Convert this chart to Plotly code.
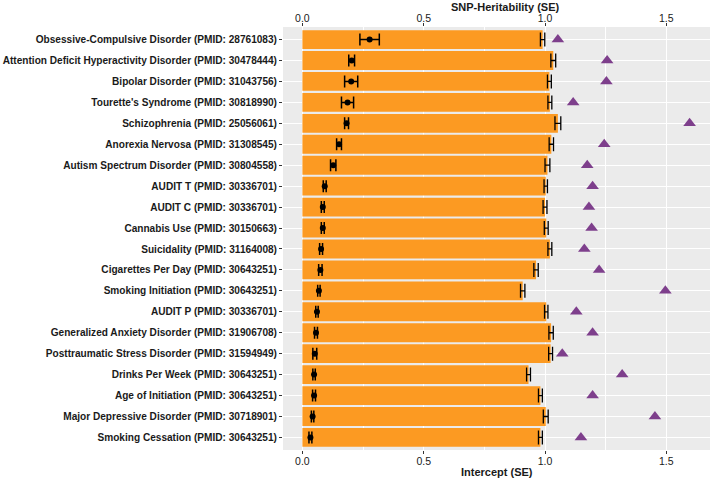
import plotly.graph_objects as go

# traits, top to bottom
traits = [
    "Obsessive-Compulsive Disorder (PMID: 28761083)",
    "Attention Deficit Hyperactivity Disorder (PMID: 30478444)",
    "Bipolar Disorder (PMID: 31043756)",
    "Tourette's Syndrome (PMID: 30818990)",
    "Schizophrenia (PMID: 25056061)",
    "Anorexia Nervosa (PMID: 31308545)",
    "Autism Spectrum Disorder (PMID: 30804558)",
    "AUDIT T (PMID: 30336701)",
    "AUDIT C (PMID: 30336701)",
    "Cannabis Use (PMID: 30150663)",
    "Suicidality (PMID: 31164008)",
    "Cigarettes Per Day (PMID: 30643251)",
    "Smoking Initiation (PMID: 30643251)",
    "AUDIT P (PMID: 30336701)",
    "Generalized Anxiety Disorder (PMID: 31906708)",
    "Posttraumatic Stress Disorder (PMID: 31594949)",
    "Drinks Per Week (PMID: 30643251)",
    "Age of Initiation (PMID: 30643251)",
    "Major Depressive Disorder (PMID: 30718901)",
    "Smoking Cessation (PMID: 30643251)",
]

intercept = [0.99, 1.034, 1.018, 1.02, 1.053, 1.026, 1.01, 1.003, 1.0, 1.005,
             1.02, 0.963, 0.908, 1.005, 1.025, 1.023, 0.932, 0.981, 1.003, 0.981]
intercept_se = [0.009, 0.01, 0.008, 0.008, 0.012, 0.009, 0.01, 0.007, 0.008, 0.008,
                0.008, 0.009, 0.009, 0.007, 0.009, 0.008, 0.008, 0.008, 0.01, 0.008]

h2 = [0.277, 0.203, 0.201, 0.186, 0.182, 0.151, 0.127, 0.092, 0.084, 0.084,
      0.077, 0.074, 0.068, 0.06, 0.056, 0.051, 0.048, 0.048, 0.042, 0.033]
h2_se = [0.04, 0.012, 0.027, 0.025, 0.008, 0.01, 0.011, 0.006, 0.006, 0.006,
         0.006, 0.007, 0.005, 0.005, 0.006, 0.008, 0.005, 0.006, 0.005, 0.006]

# mean chi-square / lambda (triangles)
mean_chi2 = [1.053, 1.256, 1.253, 1.116, 1.596, 1.244, 1.174, 1.196, 1.181, 1.192,
             1.162, 1.223, 1.496, 1.129, 1.196, 1.071, 1.318, 1.196, 1.453, 1.148]

x_ticks = [0, 0.5, 1.0, 1.5]
x_tick_text = ["0.0", "0.5", "1.0", "1.5"]
x_range = [-0.08, 1.68]

fig = go.Figure()

fig.add_trace(go.Bar(
    y=traits,
    x=intercept,
    orientation='h',
    width=0.9,
    marker=dict(color='#FC9A22', line=dict(width=0)),
    error_x=dict(type='data', array=intercept_se, color='black',
                 thickness=1.3, width=7),
    hoverinfo='skip',
    showlegend=False,
))

fig.add_trace(go.Scatter(
    y=traits,
    x=h2,
    xaxis='x2',
    mode='markers',
    marker=dict(color='black', size=6),
    error_x=dict(type='data', array=h2_se, color='black',
                 thickness=1.5, width=6),
    hoverinfo='skip',
    showlegend=False,
))

fig.add_trace(go.Scatter(
    y=traits,
    x=mean_chi2,
    mode='markers',
    marker=dict(color='#7E3F8C', size=11, symbol='triangle-up'),
    hoverinfo='skip',
    showlegend=False,
))

font_axis = dict(family='Liberation Sans', size=10.5, color='#1a1a1a')

fig.update_layout(
    width=713,
    height=480,
    margin=dict(l=283, r=3, t=27, b=30, autoexpand=False),
    paper_bgcolor='white',
    plot_bgcolor='#EBEBEB',
    bargap=0.1,
    font=dict(family='Liberation Sans', color='black'),
    xaxis=dict(
        range=x_range,
        tickvals=x_ticks,
        ticktext=x_tick_text,
        tickfont=font_axis,
        ticks='outside', ticklen=3, tickcolor='#333333',
        ticklabelstandoff=-2,
        showgrid=True, gridcolor='white', gridwidth=1.2,
        minor=dict(tickvals=[0.25, 0.75, 1.25], showgrid=True,
                   gridcolor='white', gridwidth=0.6),
        zeroline=False,
        automargin=False,
    ),
    xaxis2=dict(
        range=x_range,
        overlaying='x',
        side='top',
        tickvals=x_ticks,
        ticktext=x_tick_text,
        tickfont=font_axis,
        ticks='outside', ticklen=3, tickcolor='#333333',
        ticklabelstandoff=-3,
        showgrid=False,
        zeroline=False,
        automargin=False,
    ),
    yaxis=dict(
        type='category',
        categoryorder='array',
        categoryarray=traits,
        range=[19.6, -0.6],
        tickfont=dict(family='Liberation Sans', size=10.1, color='#1a1a1a'),
        ticks='outside', ticklen=3, tickcolor='#333333',
        showgrid=True, gridcolor='white', gridwidth=1.2,
        zeroline=False,
        automargin=False,
    ),
)

# axis titles as annotations (ggplot-like placement)
fig.add_annotation(text='<b>SNP-Heritability (SE)</b>', xref='paper', yref='paper',
                   x=0.52, y=1.047, showarrow=False,
                   font=dict(size=11, color='#1a1a1a'), yanchor='middle')
fig.add_annotation(text='<b>Intercept (SE)</b>', xref='paper', yref='paper',
                   x=0.5, y=-0.052, showarrow=False,
                   font=dict(size=11, color='#1a1a1a'), yanchor='middle')

# bold tick labels
fig.update_xaxes(tickprefix='<b>', ticksuffix='</b>')
fig.update_yaxes(tickprefix='<b>', ticksuffix='</b>')

fig.write_html("out.html", config={'displayModeBar': False},
               post_script="document.body.style.margin='0';")
